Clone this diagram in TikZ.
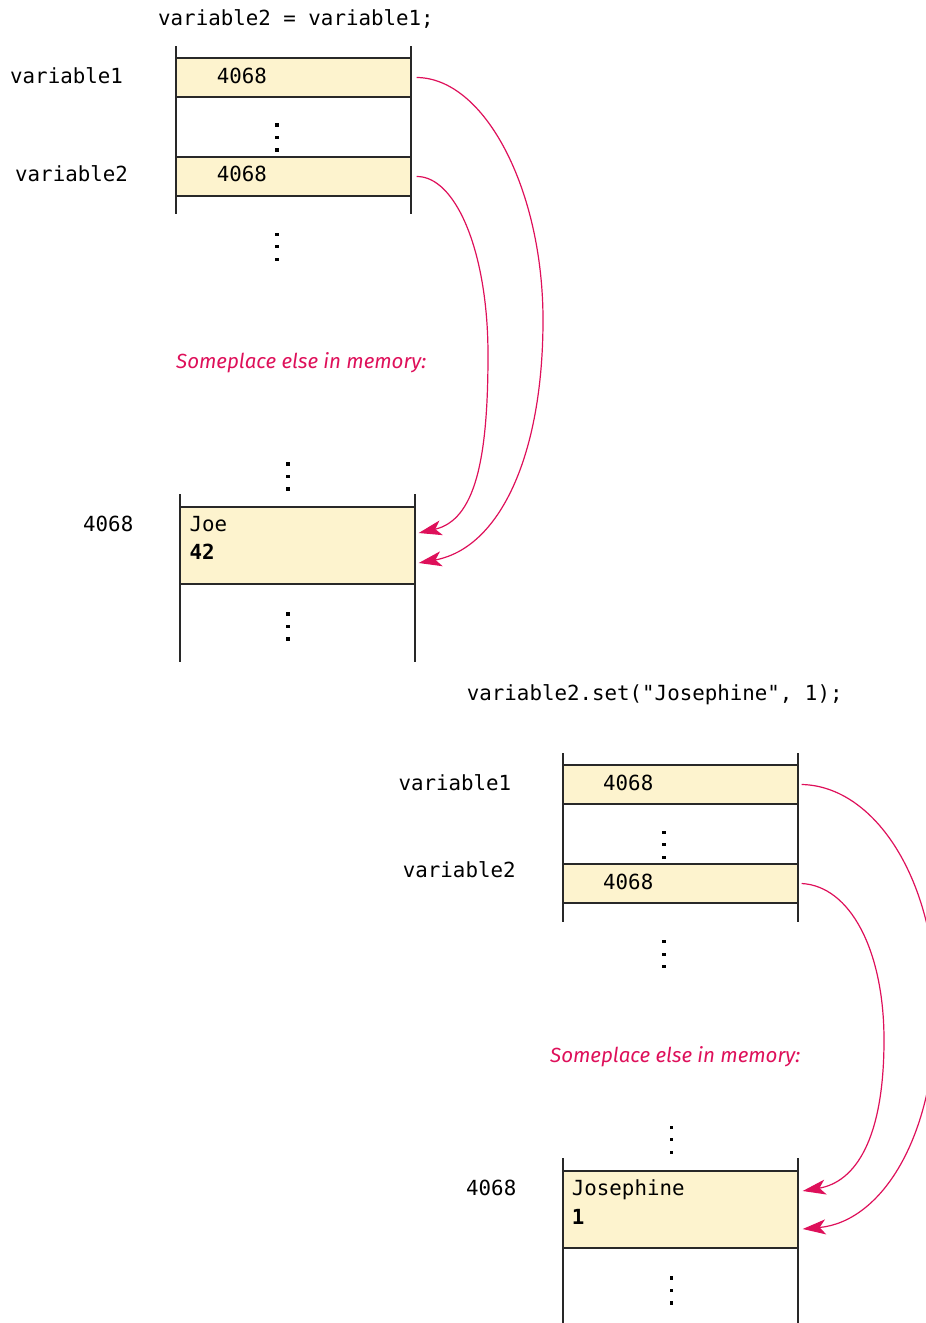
\documentclass[tikz,border=0pt]{standalone}
\usepackage{fontspec}
\usetikzlibrary{arrows.meta,calc}
\newfontfamily\codefont{DejaVu Sans Mono}
\newfontfamily\notefont{Fira Sans}
\definecolor{cellfill}{RGB}{253,243,206}
\definecolor{refpink}{RGB}{222,16,90}
\definecolor{rail}{RGB}{40,40,40}

\tikzset{
  code/.style={anchor=base west, inner sep=0pt, font=\codefont\fontsize{20.8}{24}\selectfont},
  boldcode/.style={code, font=\codefont\bfseries\fontsize{20.8}{24}\selectfont},
  note/.style={anchor=base west, inner sep=0pt, text=refpink, font=\notefont\itshape\fontsize{20.5}{24}\selectfont},
  cell/.style={draw=rail, line width=1.4pt, fill=cellfill, minimum width=235pt, inner sep=0pt},
  railline/.style={draw=rail, line width=1.4pt},
  ref/.style={draw=refpink, line width=1.2pt, -{Stealth[length=23pt,width=15pt,inset=6pt]}},
}
% three stacked dots marking elided memory
\newcommand{\memdots}[2]{\foreach \k in {0,1,2} \fill ($(#1,#2+12.5*\k)+(-1.6,-1.6)$) rectangle +(3.2,3.2);}

\begin{document}
\begin{tikzpicture}[x=1pt,y=-1pt]
\useasboundingbox (0,0) rectangle (926,1323);
\begin{scope}
\clip (0,0) rectangle (926,1323);

% ---------- first statement ----------
\node[code] (stmtA) at (158,25) {variable2 = variable1;};

\draw[railline] (176,46) -- (176,214);
\draw[railline] (411,46) -- (411,214);
\node[cell, minimum height=39pt] (aVarOne) at (293.5,77.5) {};
\node[cell, minimum height=39pt] (aVarTwo) at (293.5,176.5) {};
\node[code] (aValOne) at (216.7,83.3) {4068};
\node[code] (aValTwo) at (216.7,181.7) {4068};
\node[code] (aLblOne) at (10,83.3) {variable1};
\node[code] (aLblTwo) at (15,181.7) {variable2};
\memdots{277}{125}
\memdots{277}{234.3}

\node[note] (aNote) at (176,368.3) {Someplace else in memory:};

\memdots{288}{464}
\draw[railline] (180,494) -- (180,662);
\draw[railline] (415,494) -- (415,662);
\node[cell, minimum height=77pt] (aObj) at (297.5,545.5) {};
\node[code] (aName) at (189.3,531) {Joe};
\node[boldcode] (aNum) at (189.3,559.3) {42};
\node[code] (aAddr) at (83,531) {4068};
\memdots{288}{614}

\draw[ref] ([xshift=5pt]aVarOne.east)
  .. controls (485,78) and (543,190) .. (543,320)
  .. controls (543,455) and (500,548) .. ([xshift=3pt,yshift=-17.5pt]aObj.east);
\draw[ref] ([xshift=5pt]aVarTwo.east)
  .. controls (455,176) and (488,250) .. (488,355)
  .. controls (488,460) and (475,520) .. ([xshift=3pt,yshift=12.5pt]aObj.east);

% ---------- second statement ----------
\node[code] (stmtB) at (466.7,700) {variable2.set("Josephine", 1);};

\draw[railline] (563,753) -- (563,921.7);
\draw[railline] (798,753) -- (798,921.7);
\node[cell, minimum height=39pt] (bVarOne) at (680.5,784.5) {};
\node[cell, minimum height=39pt] (bVarTwo) at (680.5,883.5) {};
\node[code] (bValOne) at (603,790) {4068};
\node[code] (bValTwo) at (603,889) {4068};
\node[code] (bLblOne) at (398.3,790.7) {variable1};
\node[code] (bLblTwo) at (402.7,877.3) {variable2};
\memdots{664}{832.3}
\memdots{664}{941.7}

\node[note] (bNote) at (550,1062) {Someplace else in memory:};

\memdots{671.7}{1127.3}
\draw[railline] (563,1158) -- (563,1323);
\draw[railline] (798,1158) -- (798,1323);
\node[cell, minimum height=77pt] (bObj) at (680.5,1209.5) {};
\node[code] (bName) at (571.7,1195) {Josephine};
\node[boldcode] (bNum) at (571.7,1224) {1};
\node[code] (bAddr) at (466,1195) {4068};
\memdots{671.7}{1278}

\draw[ref] ([xshift=3pt]bVarOne.east)
  .. controls (875,786) and (936,880) .. (936,1005)
  .. controls (936,1140) and (880,1222) .. ([xshift=4pt,yshift=-19.5pt]bObj.east);
\draw[ref] ([xshift=3pt]bVarTwo.east)
  .. controls (850,886) and (884,950) .. (884,1040)
  .. controls (884,1140) and (855,1182) .. ([xshift=4pt,yshift=18.5pt]bObj.east);
\end{scope}
\end{tikzpicture}
\end{document}
